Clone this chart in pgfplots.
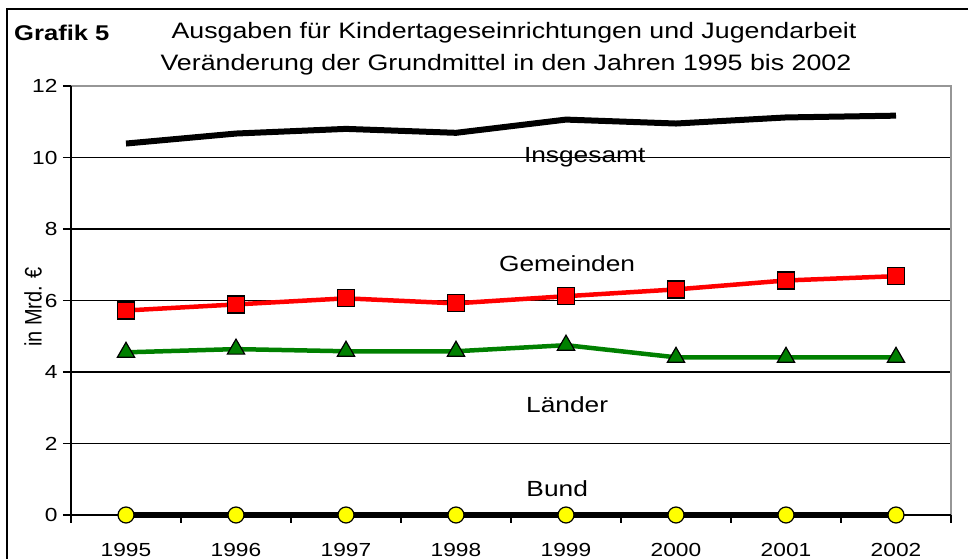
\documentclass[border=0pt]{standalone}
\usepackage{pgfplots}
\pgfplotsset{compat=1.18}
\usepackage{fontspec}
\setmainfont{Liberation Sans}[FakeStretch=1.2]
\newfontfamily\plainfont{Liberation Sans}
\definecolor{cred}{RGB}{255,0,0}
\definecolor{cgreen}{RGB}{0,128,0}
\definecolor{cyellow}{RGB}{255,255,0}
\definecolor{cgray}{RGB}{150,150,150}
\begin{document}
\begin{tikzpicture}[x=1bp,y=1bp]
\draw[line width=2.5bp] (7,-10) -- (7,550) -- (980,550);
\node[anchor=west,inner sep=0pt,font=\fontsize{21.4}{25}\selectfont\bfseries] at (14,526) {Grafik 5};
\node[font=\fontsize{22.4}{26}\selectfont] at (514,526) {Ausgaben für Kindertageseinrichtungen und Jugendarbeit};
\node[font=\fontsize{22.4}{26}\selectfont] at (506,494) {Veränderung der Grundmittel in den Jahren 1995 bis 2002};
\node[font=\plainfont\fontsize{20}{24}\selectfont] at (33,252) {\scalebox{1.2}[1]{\rotatebox{90}{in Mrd. €}}};
\begin{axis}[
  at={(71bp,44bp)}, anchor=south west, scale only axis,
  width=880bp, height=429bp,
  xmin=-0.5, xmax=7.5, ymin=0, ymax=12,
  xtick={-0.5,0.5,...,7.5},
  x tick label as interval,
  xticklabels={\mbox{1995},\mbox{1996},\mbox{1997},\mbox{1998},\mbox{1999},\mbox{2000},\mbox{2001},\mbox{2002}},
  ytick={0,2,...,12},
  /pgf/number format/assume math mode=true,
  tick label style={font=\fontsize{19}{22}\selectfont},
  xticklabel style={yshift=-17bp},
  yticklabel style={xshift=-2bp},
  tick align=outside, major tick length=8bp,
  xtick pos=bottom, ytick pos=left,
  tick style={black, line width=1.2bp},
  ymajorgrids, grid style={black, line width=1.2bp},
  axis line style={draw=none},
  clip=false,
]
\draw[cgray, line width=1.6bp] (rel axis cs:0,1) -- (rel axis cs:1,1) -- (rel axis cs:1,0);
\draw[black, line width=1.6bp] (rel axis cs:0,1) -- (rel axis cs:0,0) -- (rel axis cs:1,0);
\addplot[black, line width=6bp, no markers] coordinates {
(0,10.39) (1,10.67) (2,10.80) (3,10.69) (4,11.06) (5,10.95) (6,11.12) (7,11.17)};
\addplot[cred, line width=4.5bp, mark=square*, mark size=8.5bp,
  mark options={fill=cred, draw=black, line width=1.2bp}] coordinates {
(0,5.72) (1,5.89) (2,6.06) (3,5.92) (4,6.12) (5,6.31) (6,6.56) (7,6.68)};
\addplot[cgreen, line width=4.5bp, mark=triangle*, mark size=10bp,
  mark options={fill=cgreen, draw=black, line width=1.2bp}] coordinates {
(0,4.55) (1,4.64) (2,4.58) (3,4.58) (4,4.75) (5,4.41) (6,4.41) (7,4.41)};
\addplot[black, line width=5.5bp, mark=*, mark size=8bp,
  mark options={fill=cyellow, draw=black, line width=1.2bp}] coordinates {
(0,0) (1,0) (2,0) (3,0) (4,0) (5,0) (6,0) (7,0)};
\node[font=\fontsize{22}{26}\selectfont] at (axis cs:4.17,10.0) {Insgesamt};
\node[font=\fontsize{22}{26}\selectfont] at (axis cs:4.01,7.04) {Gemeinden};
\node[font=\fontsize{22}{26}\selectfont] at (axis cs:4.01,3.1) {Länder};
\node[font=\fontsize{22}{26}\selectfont] at (axis cs:3.92,0.75) {Bund};
\end{axis}
\pgfresetboundingbox
\useasboundingbox (0,0) rectangle (968,559);
\end{tikzpicture}
\end{document}
